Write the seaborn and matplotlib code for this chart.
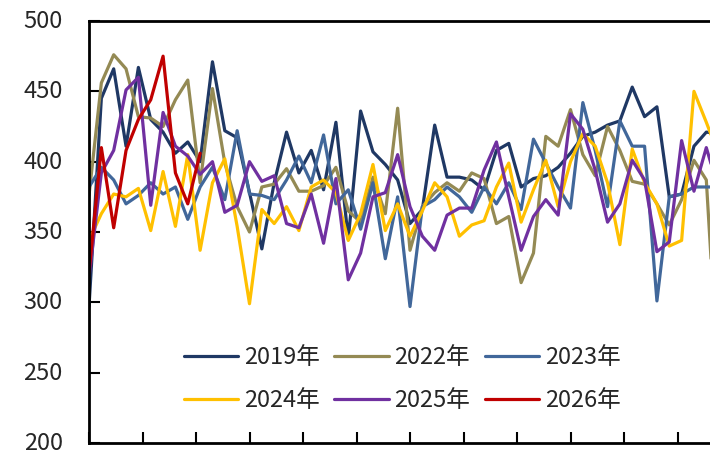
import numpy as np
import pandas as pd
import seaborn as sns
import matplotlib
matplotlib.use("Agg")
from matplotlib import pyplot as plt
from matplotlib import transforms

years = ["2019年", "2022年", "2023年", "2024年", "2025年", "2026年"]
colors = ["#1f3864", "#948a54", "#41679a", "#ffc000", "#7030a0", "#c00000"]

y2019 = [297, 445, 466, 411, 467, 430, 421, 406, 414, 400, 471, 422, 417, 378, 338, 385,
         421, 392, 408, 380, 428, 345, 436, 407, 398, 387, 356, 366, 426, 389, 389, 387,
         380, 408, 413, 382, 388, 390, 396, 406, 418, 421, 426, 429, 453, 432, 439, 375,
         377, 411, 421, 420]
y2022 = [376, 456, 476, 466, 432, 431, 425, 444, 458, 385, 452, 399, 368, 350, 382, 384,
         395, 379, 379, 383, 396, 365, 357, 389, 363, 438, 337, 368, 378, 385, 379, 392,
         388, 356, 361, 314, 335, 418, 411, 437, 405, 390, 425, 408, 386, 384, 370, 355,
         373, 401, 387, 240]
y2023 = [382, 396, 387, 370, 376, 385, 377, 382, 359, 382, 396, 373, 422, 377, 376, 373,
         387, 404, 385, 419, 370, 380, 352, 385, 331, 375, 297, 368, 373, 382, 375, 364,
         382, 370, 385, 366, 416, 399, 382, 367, 442, 408, 368, 429, 411, 411, 301, 375,
         377, 382, 382, 382]
y2024 = [344, 363, 377, 375, 381, 351, 393, 354, 405, 337, 385, 402, 354, 299, 366, 356,
         368, 351, 382, 387, 378, 344, 363, 398, 351, 370, 347, 365, 385, 375, 347, 355,
         358, 382, 399, 357, 380, 401, 368, 400, 420, 411, 385, 341, 409, 385, 370, 340,
         344, 450, 428, 405]
y2025 = [318, 392, 408, 451, 460, 369, 435, 411, 404, 391, 400, 364, 369, 400, 386, 390,
         356, 353, 377, 342, 388, 316, 335, 375, 378, 405, 368, 347, 337, 362, 367, 367,
         394, 414, 375, 337, 361, 373, 362, 434, 423, 394, 357, 370, 401, 387, 336, 343,
         415, 379, 410, 380]
y2026 = [321, 410, 353, 408, 430, 444, 475, 392, 370, 406]

series = [y2019, y2022, y2023, y2024, y2025, y2026]
rows = []
for name, vals in zip(years, series):
    for wk, v in enumerate(vals):
        rows.append({"week": wk, "value": v, "year": name})
df = pd.DataFrame(rows)

sns.set_style("white")
plt.rcParams["font.family"] = ["Noto Sans CJK SC", "DejaVu Sans"]

fig = plt.figure(figsize=(7.1, 4.51), dpi=100)
# the original is cut off on the right, so the axes run past the canvas
ax = fig.add_axes([89 / 710, 8 / 451, 642 / 710, 422 / 451])

sns.lineplot(data=df, x="week", y="value", hue="year", hue_order=years,
             palette=dict(zip(years, colors)), linewidth=2.3, ax=ax)

ax.set_xlim(0, 52)
ax.set_ylim(200, 500)
ax.set_yticks(np.arange(200, 501, 50))
ax.set_xticks(np.arange(13) * 52 / 12)
ax.set_xticklabels([])
ax.set_xlabel("")
ax.set_ylabel("")
for s in ["top", "left", "bottom", "right"]:
    ax.spines[s].set_color("black")
    ax.spines[s].set_linewidth(2)
ax.tick_params(axis="both", direction="in", length=8, width=1.5, color="black")
ax.tick_params(axis="y", labelsize=17, pad=19, left=True, right=False)
ax.tick_params(axis="x", bottom=True, top=False)

# nudge y labels up a touch so the bottom one stays on the canvas
shift = transforms.ScaledTranslation(0, 2 / 100, fig.dpi_scale_trans)
for lab in ax.get_yticklabels():
    lab.set_transform(lab.get_transform() + shift)

h, l = ax.get_legend_handles_labels()
order = [0, 3, 1, 4, 2, 5]
ax.legend([h[i] for i in order], [l[i] for i in order], ncol=3, frameon=False,
          loc="center", bbox_to_anchor=(0.488, 0.152), fontsize=17,
          handlelength=2.3, handletextpad=0.25, columnspacing=0.6,
          labelspacing=0.85)

fig.savefig("out.png", dpi=100)
